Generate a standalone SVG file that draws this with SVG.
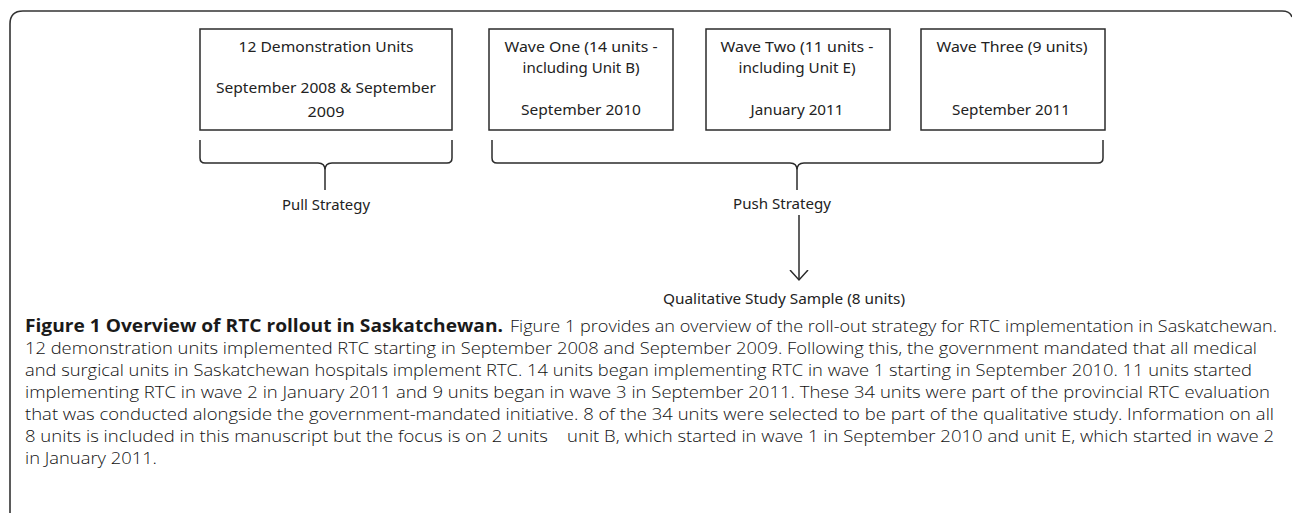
<svg xmlns="http://www.w3.org/2000/svg" width="1292" height="513" viewBox="0 0 1292 513">
<defs>
<style>
.box{fill:#fff;stroke:#2b2b2b;stroke-width:1.5}
.brace{fill:none;stroke:#2b2b2b;stroke-width:1.5}
.t{font-family:"Noto Sans","Liberation Sans",sans-serif;font-size:15px;fill:#222;text-anchor:middle}
.c{font-family:"Open Sans","Noto Sans",sans-serif;font-size:17px;font-weight:300;fill:#111}
.cb{font-family:"Open Sans","Noto Sans",sans-serif;font-size:17px;fill:#1a1a1a;font-weight:bold}
</style>
<marker id="arr" markerWidth="20" markerHeight="20" refX="10" refY="10" orient="auto" markerUnits="userSpaceOnUse">
<path d="M0,1 L10,10 L0,19" fill="none" stroke="#2b2b2b" stroke-width="1.5"/>
</marker>
</defs>
<rect width="1292" height="513" fill="#fff"/>
<path d="M10,513 V24 Q10,11 23,11 H1282 Q1290,11 1292,17" fill="none" stroke="#333" stroke-width="1.6"/>

<g id="demo">
<rect class="box" x="200" y="29" width="252" height="101"/>
<text class="t" x="326" y="52" textLength="175" lengthAdjust="spacingAndGlyphs">12 Demonstration Units</text>
<text class="t" x="326" y="93" textLength="220" lengthAdjust="spacingAndGlyphs">September 2008 &amp; September</text>
<text class="t" x="326" y="117" textLength="37" lengthAdjust="spacingAndGlyphs">2009</text>
</g>
<g id="wave1">
<rect class="box" x="489" y="29" width="184" height="101"/>
<text class="t" x="581" y="52" textLength="153" lengthAdjust="spacingAndGlyphs">Wave One (14 units -</text>
<text class="t" x="581" y="73" textLength="117" lengthAdjust="spacingAndGlyphs">including Unit B)</text>
<text class="t" x="581" y="115" textLength="120" lengthAdjust="spacingAndGlyphs">September 2010</text>
</g>
<g id="wave2">
<rect class="box" x="706" y="29" width="184" height="101"/>
<text class="t" x="797" y="52" textLength="153" lengthAdjust="spacingAndGlyphs">Wave Two (11 units -</text>
<text class="t" x="797" y="73" textLength="117" lengthAdjust="spacingAndGlyphs">including Unit E)</text>
<text class="t" x="797" y="115" textLength="93" lengthAdjust="spacingAndGlyphs">January 2011</text>
</g>
<g id="wave3">
<rect class="box" x="921" y="29" width="184" height="101"/>
<text class="t" x="1012" y="52" textLength="151" lengthAdjust="spacingAndGlyphs">Wave Three (9 units)</text>
<text class="t" x="1011" y="115" textLength="118" lengthAdjust="spacingAndGlyphs">September 2011</text>
</g>
<g id="pull">
<text class="t" x="326" y="210" textLength="88" lengthAdjust="spacingAndGlyphs">Pull Strategy</text>
</g>
<g id="push">
<text class="t" x="782" y="209" textLength="98" lengthAdjust="spacingAndGlyphs">Push Strategy</text>
</g>
<g id="sample">
<text class="t" x="784" y="304" textLength="242" lengthAdjust="spacingAndGlyphs">Qualitative Study Sample (8 units)</text>
</g>

<g id="connectors">
<path class="brace" d="M200,140 V158 Q200,163 205,163 H318 Q325,163 325,170 V190 M325,170 Q325,163 332,163 H447 Q452,163 452,158 V140"/>
<path class="brace" d="M492,140 V158 Q492,163 497,163 H790 Q797,163 797,170 V190 M797,170 Q797,163 804,163 H1098 Q1103,163 1103,158 V140"/>
<line class="brace" x1="799" y1="215" x2="799" y2="280" marker-end="url(#arr)"/>
</g>

<g id="caption">
<text class="cb" x="25" y="332" textLength="478" lengthAdjust="spacingAndGlyphs">Figure 1 Overview of RTC rollout in Saskatchewan.</text>
<text class="c" x="510" y="332" textLength="767" lengthAdjust="spacingAndGlyphs">Figure 1 provides an overview of the roll-out strategy for RTC implementation in Saskatchewan.</text>
<text class="c" x="25" y="354" textLength="1232" lengthAdjust="spacingAndGlyphs">12 demonstration units implemented RTC starting in September 2008 and September 2009. Following this, the government mandated that all medical</text>
<text class="c" x="25" y="376" textLength="1227" lengthAdjust="spacingAndGlyphs">and surgical units in Saskatchewan hospitals implement RTC. 14 units began implementing RTC in wave 1 starting in September 2010. 11 units started</text>
<text class="c" x="25" y="398" textLength="1245" lengthAdjust="spacingAndGlyphs">implementing RTC in wave 2 in January 2011 and 9 units began in wave 3 in September 2011. These 34 units were part of the provincial RTC evaluation</text>
<text class="c" x="25" y="420" textLength="1249" lengthAdjust="spacingAndGlyphs">that was conducted alongside the government-mandated initiative. 8 of the 34 units were selected to be part of the qualitative study. Information on all</text>
<text class="c" x="25" y="442" textLength="1249" lengthAdjust="spacingAndGlyphs" xml:space="preserve">8 units is included in this manuscript but the focus is on 2 units    unit B, which started in wave 1 in September 2010 and unit E, which started in wave 2</text>
<text class="c" x="25" y="464" textLength="132" lengthAdjust="spacingAndGlyphs">in January 2011.</text>
</g>
</svg>
